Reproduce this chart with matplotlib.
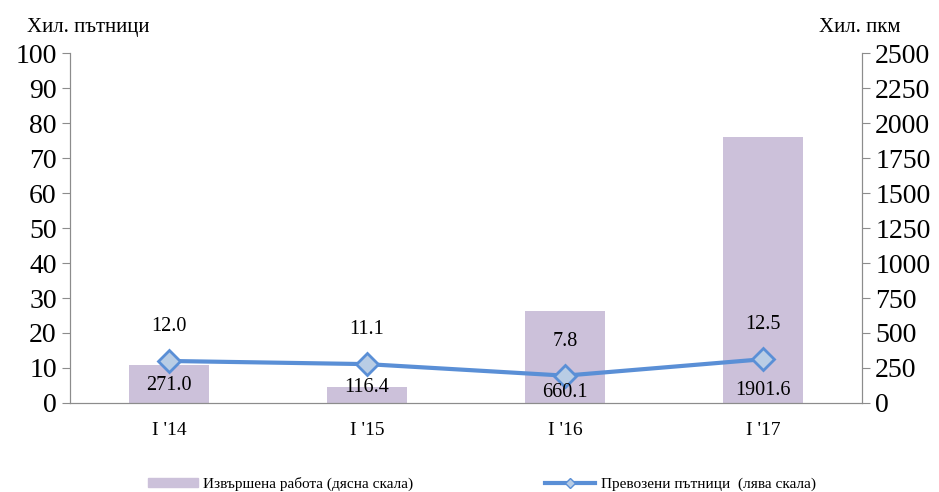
import matplotlib.pyplot as plt
from matplotlib.lines import Line2D
from matplotlib.patches import Patch
import numpy as np

plt.rcParams['font.family'] = ['Liberation Serif', 'DejaVu Serif']

categories = ["I '14", "I '15", "I '16", "I '17"]
work_pkm = [271.0, 116.4, 660.1, 1901.6]      # хил. пкм, дясна скала
passengers = [12.0, 11.1, 7.8, 12.5]          # хил. пътници, лява скала

bar_color = "#CCC1DA"
line_color = "#5A8FD6"
marker_fill = "#B9CDE5"
spine_color = "#8C8C8C"

fig = plt.figure(figsize=(9.39, 4.92), dpi=100)
ax = fig.add_axes([0.0746, 0.181, 0.8434, 0.711])
ax2 = ax.twinx()

x = np.arange(len(categories))

# bars on the right axis
ax2.bar(x, work_pkm, width=0.4, color=bar_color, zorder=1)
ax2.set_ylim(0, 2500)
ax2.set_yticks(np.arange(0, 2501, 250))

# line on the left axis, drawn above bars
ax.set_zorder(ax2.get_zorder() + 1)
ax.patch.set_visible(False)
ax.plot(x, passengers, color=line_color, lw=3, marker="D", ms=11,
        mfc=marker_fill, mec=line_color, mew=2)
ax.set_ylim(0, 100)
ax.set_yticks(np.arange(0, 101, 10))
ax.set_xlim(-0.5, 3.5)
ax.set_xticks(x)
ax.set_xticklabels(categories, fontsize=14)
ax.tick_params(axis="x", length=0, pad=14)

for a in (ax, ax2):
    a.tick_params(axis="y", labelsize=20, direction="out", length=6,
                  color=spine_color)
    a.spines["top"].set_visible(False)
    for s in ("left", "right", "bottom"):
        a.spines[s].set_color(spine_color)

# value labels
for xi, v in zip(x, passengers):
    ax.annotate(f"{v:.1f}", (xi, v), xytext=(0, 18), textcoords="offset points",
                ha="center", va="bottom", fontsize=14.5)
label_y = [5.0, 4.5, 3.0, 3.5]
for xi, v, ly in zip(x, work_pkm, label_y):
    ax.text(xi, ly, f"{v:.1f}", ha="center", va="center", fontsize=14.5, zorder=5)

ax.text(-0.054, 1.045, "Хил. пътници", transform=ax.transAxes,
        fontsize=15, ha="left", va="bottom")
ax.text(1.048, 1.045, "Хил. пкм", transform=ax.transAxes,
        fontsize=15, ha="right", va="bottom")

h_bar = Patch(color=bar_color, label="Извършена работа (дясна скала)")
h_line = Line2D([], [], color=line_color, lw=3, marker="D", ms=5,
                mfc=marker_fill, mec=line_color, mew=1,
                label="Превозени пътници  (лява скала)")
fig.legend(handles=[h_bar, h_line], loc="lower center", ncol=2, frameon=False,
           fontsize=11, bbox_to_anchor=(0.513, -0.026), columnspacing=8.6,
           handlelength=3.3, handletextpad=0.35, handleheight=0.6)

fig.savefig("out.png", dpi=100)
